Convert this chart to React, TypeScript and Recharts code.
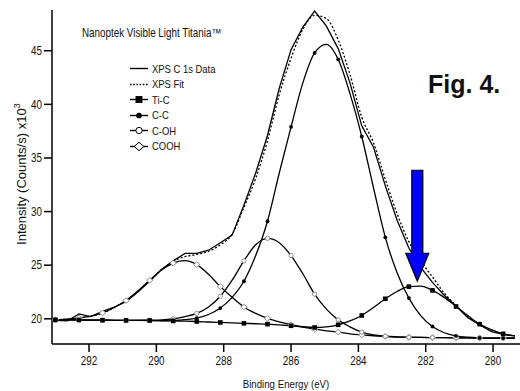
import React from "react";
import { LineChart, Line, XAxis, YAxis, Legend, Label, ReferenceDot } from "recharts";

const bindingEnergy = [
  293.0, 292.65, 292.3, 291.95, 291.6, 291.25, 290.9, 290.55, 290.2, 289.85,
  289.5, 289.15, 288.8, 288.45, 288.1, 287.75, 287.4, 287.05, 286.7, 286.35,
  286.0, 285.65, 285.3, 284.95, 284.6, 284.25, 283.9, 283.55, 283.2, 282.85,
  282.5, 282.15, 281.8, 281.45, 281.1, 280.75, 280.4, 280.05, 279.7, 279.35,
];

const xpsData = [
  19.85, 19.8, 20.45, 20.2, 20.7, 21.1, 21.6, 22.5, 23.5, 24.6,
  25.4, 26.1, 26.1, 26.4, 27.1, 27.8, 30.6, 33.6, 37.1, 41.5,
  45.1, 47.2, 48.7, 47.3, 45.2, 42.0, 38.0, 36.0, 32.4, 29.2,
  26.6, 24.8, 23.4, 22.2, 21.2, 20.1, 19.45, 18.8, 18.55, 18.4,
];

const xpsFit = [
  19.92, 19.97, 20.08, 20.25, 20.55, 21.05, 21.7, 22.55, 23.55, 24.55,
  25.35, 25.8, 26.0, 26.3, 26.9, 27.9, 30.4, 33.1, 36.6, 40.9,
  44.3, 47.0, 48.3, 48.0, 46.0, 42.8, 38.8, 36.4, 33.0, 29.8,
  27.2, 25.4, 23.9, 22.4, 21.25, 20.2, 19.45, 18.95, 18.6, 18.4,
];

const tiC = [
  19.9, 19.9, 19.89, 19.88, 19.87, 19.86, 19.85, 19.85, 19.84, 19.82,
  19.8, 19.78, 19.75, 19.7, 19.66, 19.62, 19.58, 19.54, 19.5, 19.43,
  19.35, 19.26, 19.19, 19.25, 19.44, 19.8, 20.31, 21.05, 21.87, 22.55,
  23.0, 23.05, 22.65, 22.0, 21.15, 20.3, 19.5, 19.0, 18.6, 18.4,
];

const cC = [
  19.9, 19.9, 19.89, 19.88, 19.87, 19.86, 19.85, 19.85, 19.84, 19.83,
  19.85, 19.92, 20.07, 20.4, 21.0, 22.0, 23.5, 25.9, 29.1, 33.6,
  37.9, 42.0, 44.8, 45.6, 44.2, 41.0, 37.0, 32.2, 27.6, 24.3,
  21.93, 20.3, 19.28, 18.7, 18.41, 18.28, 18.22, 18.2, 18.2, 18.2,
];

const cOH = [
  19.9, 19.9, 19.89, 19.88, 19.87, 19.86, 19.86, 19.86, 19.87, 19.9,
  20.0, 20.2, 20.5, 21.1, 22.1, 23.6, 25.4, 26.9, 27.5, 27.1,
  25.9, 24.2, 22.3, 20.9, 19.9, 19.25, 18.76, 18.5, 18.38, 18.32,
  18.28, 18.26, 18.25, 18.24, 18.23, 18.22, 18.21, 18.2, 18.2, 18.2,
];

const cOOH = [
  19.92, 19.97, 20.08, 20.25, 20.55, 21.05, 21.7, 22.6, 23.6, 24.55,
  25.2, 25.42, 25.05, 24.15, 23.0, 22.0, 21.1, 20.5, 20.05, 19.72,
  19.45, 19.22, 19.03, 18.88, 18.76, 18.6, 18.5, 18.42, 18.35, 18.3,
  18.27, 18.26, 18.25, 18.24, 18.23, 18.22, 18.21, 18.2, 18.2, 18.2,
];

const legendNames = ["XPS C 1s Data", "XPS Fit", "Ti-C", "C-C", "C-OH", "COOH"];
const xTicks = [292, 290, 288, 286, 284, 282, 280];
const yTicks = [20, 25, 30, 35, 40, 45];
const arrowTip = { be: 282.25, counts: 23.5 };

const rows = bindingEnergy.map((be, i) => ({
  be,
  data: xpsData[i],
  fit: xpsFit[i],
  tic: tiC[i],
  cc: cC[i],
  coh: cOH[i],
  cooh: cOOH[i],
}));

const SANS = '"Liberation Sans", Arial, sans-serif';
const SQUEEZE = 0.82; // the figure's text is horizontally condensed
const GREY = "#8c8c8c";

// condensed svg text, scaled about its anchor point
function NarrowText({ x, y, anchor = "start", size = 12, dy, children }: any) {
  return (
    <text
      transform={`translate(${x} ${y}) scale(${SQUEEZE} 1)`}
      textAnchor={anchor}
      dy={dy}
      fontSize={size}
      fontFamily={SANS}
      fill="#111"
    >
      {children}
    </text>
  );
}

const XTick = (p: any) => (
  <NarrowText x={p.x} y={p.y} anchor="middle" dy="0.71em">
    {p.payload.value}
  </NarrowText>
);

const YTick = (p: any) => (
  <NarrowText x={p.x} y={p.y} anchor="end" dy="0.355em">
    {p.payload.value}
  </NarrowText>
);

type Kind = "square" | "circle" | "ocircle" | "diamond";

function Marker({ kind, cx, cy, big }: { kind: Kind; cx: number; cy: number; big?: boolean }) {
  const s = big ? 1.5 : 1;
  if (kind === "square") {
    const h = 2.3 * s;
    return <rect x={cx - h} y={cy - h} width={h * 2} height={h * 2} fill="#000" />;
  }
  if (kind === "circle") return <circle cx={cx} cy={cy} r={1.9 * s} fill="#000" />;
  if (kind === "ocircle")
    return <circle cx={cx} cy={cy} r={2.1 * s} fill="#fff" stroke={big ? "#000" : GREY} strokeWidth={1} />;
  const d = 2.8 * s;
  return (
    <path
      d={`M${cx},${cy - d} L${cx + d * 1.15},${cy} L${cx},${cy + d} L${cx - d * 1.15},${cy} Z`}
      fill="#fff"
      stroke={big ? "#000" : GREY}
      strokeWidth={1}
    />
  );
}

// markers only on every other sample (0.7 eV apart)
const everyOther = (kind: Kind) => (p: any) => {
  if (p.index % 2 !== 0 || p.cx == null) return <g key={`e${kind}${p.index}`} />;
  return (
    <g key={`m${kind}${p.index}`}>
      <Marker kind={kind} cx={p.cx} cy={p.cy} />
    </g>
  );
};

function BlueArrow(p: any) {
  const { cx, cy } = p;
  if (cx == null) return <g />;
  const d = `M${cx},${cy} L${cx - 11.5},${cy - 28} L${cx - 5.5},${cy - 28} L${cx - 5.5},${cy - 111} L${cx + 5.5},${cy - 111} L${cx + 5.5},${cy - 28} L${cx + 11.5},${cy - 28} Z`;
  return <path d={d} fill="#0000ff" stroke="#000" strokeWidth={1.2} />;
}

function LegendBox() {
  const icons: (Kind | "solid" | "dot")[] = ["solid", "dot", "square", "circle", "ocircle", "diamond"];
  return (
    <div style={{ fontFamily: SANS, fontSize: 11.5, color: "#111" }}>
      {legendNames.map((n, i) => {
        const ic = icons[i];
        return (
          <div key={n} style={{ display: "flex", alignItems: "center", height: 15.5 }}>
            <svg width={21} height={15} style={{ display: "block" }}>
              <line
                x1={1}
                x2={19}
                y1={7.5}
                y2={7.5}
                stroke="#000"
                strokeWidth={1.4}
                strokeDasharray={ic === "dot" ? "1.6 1.6" : undefined}
              />
              {ic !== "solid" && ic !== "dot" ? <Marker kind={ic} cx={10} cy={7.5} big /> : null}
            </svg>
            <span
              style={{
                marginLeft: 2,
                display: "inline-block",
                whiteSpace: "nowrap",
                transform: `scaleX(${SQUEEZE})`,
                transformOrigin: "left center",
              }}
            >
              {n}
            </span>
          </div>
        );
      })}
    </div>
  );
}

export default function App() {
  return (
    <div style={{ position: "absolute", left: 0, top: 0, width: 520, height: 391, background: "#fff" }}>
      <LineChart width={520} height={391} data={rows} margin={{ top: 10, right: 0, bottom: 0, left: 0 }}>
        <XAxis
          dataKey="be"
          type="number"
          domain={[279.2, 293.1]}
          allowDataOverflow
          reversed
          ticks={xTicks}
          height={47}
          tickSize={8}
          tickMargin={4}
          axisLine={{ stroke: "#000", strokeWidth: 1.5 }}
          tickLine={{ stroke: "#000", strokeWidth: 1.5 }}
          tick={XTick}
        >
          <Label
            content={(p: any) => {
              const vb = p.viewBox;
              return (
                <NarrowText x={vb.x + vb.width / 2} y={vb.y + 44} anchor="middle" size={11.8}>
                  Binding Energy (eV)
                </NarrowText>
              );
            }}
          />
        </XAxis>
        <YAxis
          type="number"
          domain={[17.65, 48.8]}
          allowDataOverflow
          ticks={yTicks}
          width={52}
          tickSize={8}
          tickMargin={2}
          axisLine={{ stroke: "#000", strokeWidth: 1.5 }}
          tickLine={{ stroke: "#000", strokeWidth: 1.5 }}
          tick={YTick}
        >
          <Label
            content={(p: any) => {
              const vb = p.viewBox;
              const x = vb.x + 26;
              const y = vb.y + vb.height / 2 - 3;
              return (
                <text x={x} y={y} transform={`rotate(-90 ${x} ${y})`} textAnchor="middle" fontSize={13} fontFamily={SANS} fill="#111">
                  Intensity (Counts/s) x10
                  <tspan dy={-6} fontSize={9.5}>3</tspan>
                </text>
              );
            }}
          />
        </YAxis>
        <Legend
          layout="vertical"
          align="center"
          verticalAlign="middle"
          wrapperStyle={{ left: 129, top: 61, width: 120 }}
          content={() => <LegendBox />}
        />
        <Line dataKey="cooh" type="monotone" stroke="#000" strokeWidth={1.3} dot={everyOther("diamond")} activeDot={false} isAnimationActive={false} />
        <Line dataKey="coh" type="monotone" stroke="#000" strokeWidth={1.3} dot={everyOther("ocircle")} activeDot={false} isAnimationActive={false} />
        <Line dataKey="cc" type="monotone" stroke="#000" strokeWidth={1.3} dot={everyOther("circle")} activeDot={false} isAnimationActive={false} />
        <Line dataKey="tic" type="monotone" stroke="#000" strokeWidth={1.3} dot={everyOther("square")} activeDot={false} isAnimationActive={false} />
        <Line dataKey="fit" type="monotone" stroke="#000" strokeWidth={1.3} strokeDasharray="2 2" dot={false} activeDot={false} isAnimationActive={false} />
        <Line dataKey="data" type="linear" stroke="#000" strokeWidth={1.3} dot={false} activeDot={false} isAnimationActive={false} />
        <ReferenceDot x={arrowTip.be} y={arrowTip.counts} shape={BlueArrow} />
      </LineChart>
      <svg width={520} height={391} style={{ position: "absolute", left: 0, top: 0, pointerEvents: "none" }}>
        <NarrowText x={82} y={37} size={12}>
          Nanoptek Visible Light Titania™
        </NarrowText>
        <text x={428} y={93} fontSize={25} fontWeight="bold" fontFamily={SANS} fill="#111">
          Fig. 4.
        </text>
      </svg>
    </div>
  );
}
